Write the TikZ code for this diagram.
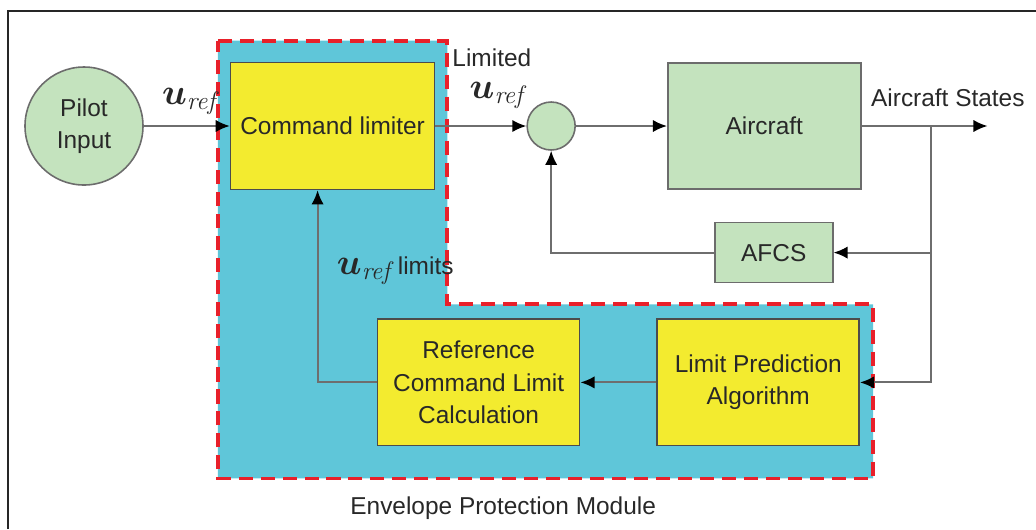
\documentclass[tikz,border=0pt]{standalone}
\usepackage[no-math]{fontspec}
\setmainfont{Liberation Sans}
\usepackage{bm}
\usetikzlibrary{arrows.meta, positioning, calc, backgrounds}

\definecolor{boxgreen}{RGB}{196,227,190}
\definecolor{boxyellow}{RGB}{243,235,47}
\definecolor{moduleblue}{RGB}{95,198,217}
\definecolor{dashred}{RGB}{232,32,42}
\definecolor{linegray}{RGB}{110,110,110}
\definecolor{textgray}{RGB}{40,40,40}

\newcommand{\diagfont}{\fontsize{13.9}{18.5}\selectfont}
\newcommand{\uref}{{\fontsize{20.74}{24}\selectfont$\bm{u}_{\mathit{ref}}$}}

\begin{document}
\begin{tikzpicture}[
  every node/.style = {text=textgray},
  green box/.style  = {draw=gray!85!black, fill=boxgreen, line width=0.9pt,
    font=\diagfont, align=center, inner sep=0pt},
  yellow box/.style = {draw=black!70, fill=boxyellow, line width=0.9pt,
    font=\diagfont, align=center, inner sep=0pt,
    minimum width=4.04cm, minimum height=2.53cm},
  sum/.style  = {circle, draw=gray!85!black, fill=boxgreen, line width=0.9pt,
    minimum size=0.96cm, inner sep=0pt},
  arr/.style  = {draw=linegray, line width=1.1pt,
    -{Latex[length=8pt, width=7pt, color=black]}},
  module/.style = {fill=moduleblue, draw=dashred, line width=2.2pt,
    dash pattern=on 8pt off 4.5pt},
  note/.style = {font=\diagfont, inner sep=1pt},
]
\useasboundingbox (0,0) rectangle (20.72,-10.58);
\draw[line width=1.6pt, black!85] (0.16,-10.58) |- (20.72,-0.22);

\node[green box, circle, minimum size=2.36cm] (pilot) at (1.68,-2.52) {Pilot\\Input};
\node[yellow box, minimum width=4.08cm, minimum height=2.54cm, right=1.72cm of pilot] (cmdlim) {Command limiter};
\node[sum, right=1.82cm of cmdlim] (sum) {};
\node[green box, minimum width=3.86cm, minimum height=2.52cm, right=1.82cm of sum] (aircraft) {Aircraft};
\node[green box, minimum width=2.36cm, minimum height=1.2cm, below=0.64cm of aircraft, xshift=0.19cm] (afcs) {AFCS};
\node[yellow box, below=0.7cm of afcs, xshift=-0.31cm] (lpa) {Limit Prediction\\Algorithm};
\node[yellow box, left=1.52cm of lpa] (rclc) {Reference\\Command Limit\\Calculation};

\coordinate[right=2.52cm of aircraft.east] (out);
\coordinate[right=1.38cm of aircraft.east] (branch);
\coordinate (afcs-in) at (branch |- afcs.east);
\coordinate (lpa-in) at (branch |- lpa.east);
\coordinate (fb) at (sum |- afcs.west);
\coordinate (lim-up) at ($(rclc.west -| cmdlim.south) + (-0.3,0)$);

% envelope protection module
\coordinate (m-nw) at ($(cmdlim.north west)+(-0.24,0.42)$);
\coordinate (m-ne) at ($(cmdlim.north east)+(0.24,0.42)$);
\coordinate (m-notch) at ($(lpa.north)+(0,0.28)$);
\coordinate (m-se) at ($(lpa.south east)+(0.26,-0.64)$);
\begin{scope}[on background layer]
  \draw[module] (m-nw) -- (m-ne) |- (m-notch) -| (m-se) -| (m-nw) -- cycle;
\end{scope}

\draw[arr] (pilot) -- (pilot -| cmdlim.west);
\draw[arr] (cmdlim) -- (sum);
\draw[arr] (sum) -- (aircraft);
\draw[arr] (aircraft) -- (out);
\draw[arr] (branch) -- (lpa-in) -- (lpa);
\draw[arr] (afcs-in) -- (afcs);
\draw[arr] (afcs) -- (fb) -- (sum);
\draw[arr] (lpa) -- (rclc);
\draw[arr] (rclc) -- (lim-up) -- (lim-up |- cmdlim.south);

\node[note, inner sep=0pt, anchor=base west] at ($(pilot.east)+(0.36,0.44)$) {\uref};
\node[note, anchor=west] (limited) at ($(cmdlim.north east)+(0.3,0.08)$) {Limited};
\node[note, inner sep=0pt, anchor=base west] at ($(cmdlim.east)+(0.68,0.56)$) {\uref};
\node[note, anchor=base west] at ($(aircraft.east)+(0.15,0.4)$) {Aircraft States};
\node[note, inner sep=0pt, anchor=base west] at ($(lim-up |- cmdlim.south)+(0.38,-1.68)$) {\uref\kern1pt limits};
\node[note] at ($(rclc.center |- m-se)+(0.49,-0.6)$) {Envelope Protection Module};

\end{tikzpicture}
\end{document}
